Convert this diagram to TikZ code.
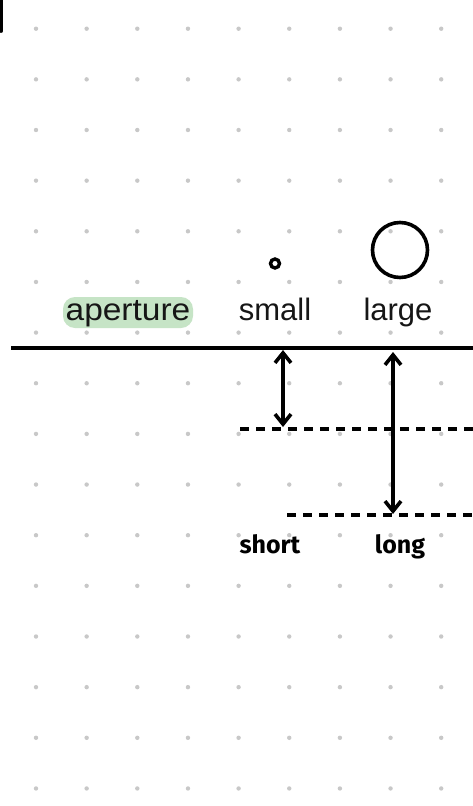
\documentclass[tikz,border=0pt]{standalone}
\usepackage{fontspec}
\setmainfont{Liberation Sans}
\newfontfamily\handfont{Fira Sans}
\usetikzlibrary{arrows.meta}
\definecolor{dotgray}{RGB}{200,200,200}
\definecolor{hlgreen}{RGB}{198,228,198}
\definecolor{ink}{RGB}{22,22,22}
\tikzset{
  gridpt/.style={fill=dotgray,draw=none},
  lbl/.style={font=\fontsize{31}{36}\selectfont,text=ink,inner sep=0pt,anchor=base},
  hand/.style={font=\handfont\bfseries\fontsize{25}{30}\selectfont,text=black,inner sep=0pt,anchor=base},
  axis/.style={line width=4.2pt,black},
  guide/.style={line width=3.4pt,black,dash pattern=on 9pt off 7pt},
  dist/.style={line width=3.6pt,black,{Straight Barb[length=10pt,width=16pt]}-{Straight Barb[length=10pt,width=16pt]}},
  ring/.style={draw=black,fill=none}
}
\begin{document}
\begin{tikzpicture}[x=1pt,y=-1pt]
\useasboundingbox (0,0) rectangle (473,806);
\fill[white] (0,0) rectangle (473,806);
% dot grid
\foreach \i in {0,...,8}{
  \foreach \j in {0,...,15}{
    \fill[gridpt] ({36+50.65*\i},{28.7+50.65*\j}) circle (2.2);
  }
}
% corner stroke
\draw[line width=3.8pt,line cap=round] (1.2,-2) -- (1.2,31);
% aperture axis
\coordinate (axL) at (11,348);
\coordinate (axR) at (473,348);
\draw[axis] (axL) -- (axR);
% highlight and labels
\node[fill=hlgreen,rounded corners=12pt,minimum width=130pt,minimum height=31pt,inner sep=0pt] (hl) at (128,312.5) {};
\node[lbl,xscale=1.08] (aperture) at (128,320) {aperture};
\node[lbl] (small) at (275,320) {small};
\node[lbl] (large) at (398,320) {large};
% aperture circles
\node[ring,circle,line width=3.4pt,minimum size=9pt,inner sep=0pt] (csmall) at (275,263.5) {};
\node[ring,circle,line width=3.6pt,minimum size=55pt,inner sep=0pt] (clarge) at (400,250) {};
% depth guides
\coordinate (g1L) at (240,429);
\coordinate (g1R) at (473,429);
\coordinate (g2L) at (287,515);
\coordinate (g2R) at (473,515);
\draw[guide] (g1L) -- (g1R);
\draw[guide] (g2L) -- (g2R);
% distance arrows
\coordinate (sTop) at (283,350);
\coordinate (sBot) at (283,427);
\coordinate (lTop) at (393,352);
\coordinate (lBot) at (393,514);
\draw[dist] (sTop) -- (sBot);
\draw[dist] (lTop) -- (lBot);
% handwritten labels
\node[hand] (short) at (270,553) {short};
\node[hand] (long) at (400,553) {long};
\end{tikzpicture}
\end{document}
